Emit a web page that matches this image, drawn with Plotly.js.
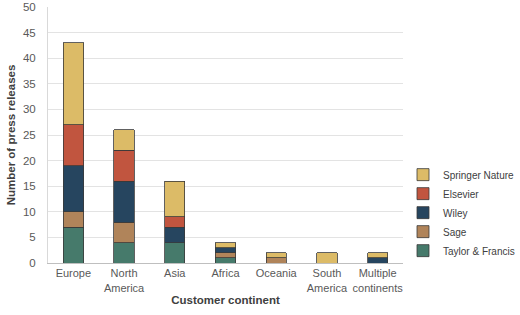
<!DOCTYPE html>
<html>
<head>
<meta charset="utf-8">
<script src="https://cdn.plot.ly/plotly-3.0.1.min.js"></script>
<style>html,body{margin:0;padding:0;background:#fff}#chart{width:520px;height:315px}</style>
</head>
<body>
<div id="chart"></div>
<script>
const categories = ["Europe", "North<br>America", "Asia", "Africa", "Oceania", "South<br>America", "Multiple<br>continents"];
const taylorFrancis = [7, 4, 4, 1, 0, 0, 0];
const sage = [3, 4, 0, 1, 1, 0, 0];
const wiley = [9, 8, 3, 1, 0, 0, 1];
const elsevier = [8, 6, 2, 0, 0, 0, 0];
const springerNature = [16, 4, 7, 1, 1, 2, 1];

const seriesNames = ["Taylor & Francis", "Sage", "Wiley", "Elsevier", "Springer Nature"];
const seriesValues = [taylorFrancis, sage, wiley, elsevier, springerNature];
const colors = ["#467a6b", "#b0845a", "#26455f", "#c1553f", "#dcbb67"];

const traces = seriesNames.map((n, i) => ({
  type: "bar",
  name: n,
  x: categories,
  y: seriesValues[i],
  marker: {color: colors[i], line: {color: "#3a3a3a", width: 0.8}},
  hoverinfo: "skip"
}));

const layout = {
  width: 520, height: 315,
  margin: {l: 48, r: 114, t: 7, b: 52},
  barmode: "stack",
  bargap: 0.6,
  paper_bgcolor: "#fff", plot_bgcolor: "#fff",
  font: {family: "Liberation Sans, Arial, sans-serif", size: 11, color: "#595959"},
  showlegend: true,
  legend: {traceorder: "reversed", xref: "container", yref: "container",
           x: 0.775, y: 0.325, yanchor: "middle", xanchor: "left",
           font: {size: 10, color: "#404040"}, itemwidth: 30, tracegroupgap: 0},
  xaxis: {
    title: {text: "<b>Customer continent</b>", font: {size: 11.5, color: "#404040"}, standoff: 3},
    showline: true, linecolor: "#bfbfbf", linewidth: 1, tickangle: 0,
    tickfont: {size: 11, color: "#595959"}, ticks: "", showgrid: false
  },
  yaxis: {
    title: {text: "<b>Number of press releases</b>", font: {size: 11.5, color: "#404040"}, standoff: 4},
    range: [0, 50], dtick: 5, tick0: 0, ticklabelstandoff: 9,
    showline: true, linecolor: "#d9d9d9", gridcolor: "#e3e3e3", gridwidth: 1,
    zeroline: false, tickfont: {size: 11.5, color: "#595959"}, ticks: ""
  }
};

Plotly.newPlot("chart", traces, layout, {displayModeBar: false, staticPlot: true});
</script>
</body>
</html>
